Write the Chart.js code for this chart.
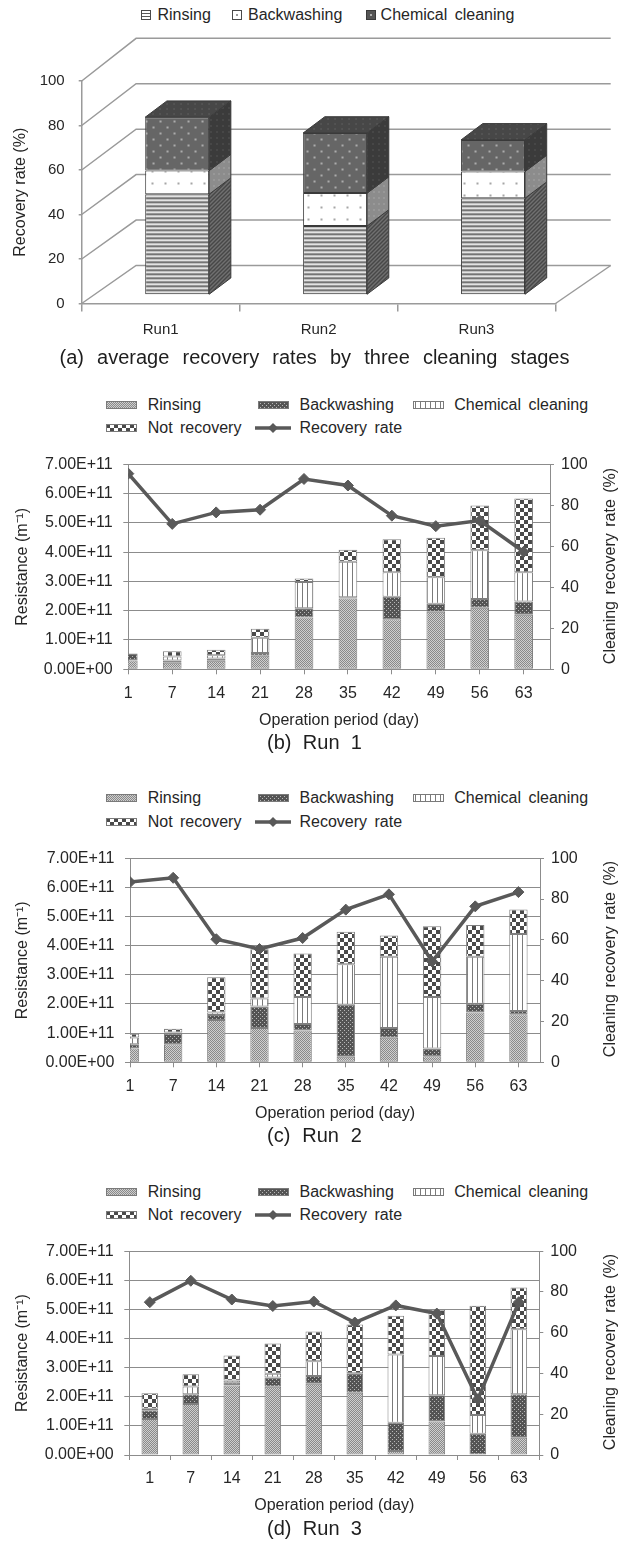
<!DOCTYPE html>
<html>
<head>
<meta charset="utf-8">
<script src="https://cdn.jsdelivr.net/npm/chart.js"></script>
<style>
  body { margin: 0; background: #fff; }
  #page { position: relative; width: 629px; height: 1547px; overflow: hidden;
          font-family: 'Liberation Sans', Arial, sans-serif; color: #262626; }
  #page canvas { position: absolute; left: 0; }
  .cap { position: absolute; left: 0; width: 629px; text-align: center; font-size: 20px;
         line-height: 24px; white-space: nowrap; color: #1e1e1e; }
  .lt { position: absolute; font-size: 16px; line-height: 20px; white-space: nowrap; word-spacing: 3px; }
  .rt { position: absolute; width: 240px; text-align: center; font-size: 16px; line-height: 20px;
        white-space: nowrap; word-spacing: 2px; transform: rotate(-90deg); }
</style>
</head>
<body>
<div id="page">
  <canvas id="chartA"></canvas>
  <canvas id="chartB"></canvas>
  <canvas id="chartC"></canvas>
  <canvas id="chartD"></canvas>
  <div class="cap" data-w="510" style="top:345px"><span>(a) average recovery rates by three cleaning stages</span></div>
  <div class="cap" data-w="95" style="top:730px"><span>(b) Run 1</span></div>
  <div class="cap" data-w="95" style="top:1123px"><span>(c) Run 2</span></div>
  <div class="cap" data-w="95" style="top:1516px"><span>(d) Run 3</span></div>
</div>
<script>
// ---- data ----
const runs = ['Run1', 'Run2', 'Run3'];
const avgRinsing = [45.3, 31.0, 43.5];
const avgBackwashing = [10.6, 14.8, 12.0];
const avgChemical = [24.0, 27.0, 14.2];

const days = ['1', '7', '14', '21', '28', '35', '42', '49', '56', '63'];

// resistance in units of 1E+11 m-1
const run1Rinsing  = [0.30, 0.22, 0.29, 0.46, 1.77, 2.42, 1.71, 1.96, 2.10, 1.86];
const run1Backwash = [0.22, 0.08, 0.08, 0.10, 0.31, 0.04, 0.77, 0.28, 0.30, 0.45];
const run1Chemical = [0.00, 0.14, 0.11, 0.52, 0.90, 1.21, 0.83, 0.90, 1.66, 1.00];
const run1NotRec   = [0.02, 0.18, 0.19, 0.30, 0.12, 0.41, 1.13, 1.35, 1.53, 2.52];
const run1Rate     = [95.4, 70.9, 76.5, 77.8, 92.8, 89.6, 74.9, 69.8, 72.5, 57.3];

const run2Rinsing  = [0.47, 0.62, 1.45, 1.18, 1.09, 0.19, 0.84, 0.21, 1.71, 1.65];
const run2Backwash = [0.15, 0.36, 0.17, 0.73, 0.22, 1.78, 0.34, 0.26, 0.30, 0.11];
const run2Chemical = [0.23, 0.04, 0.09, 0.28, 0.93, 1.39, 2.44, 1.77, 1.61, 2.64];
const run2NotRec   = [0.13, 0.13, 1.21, 1.69, 1.49, 1.12, 0.73, 2.43, 1.09, 0.84];
const run2Rate     = [88.3, 90.4, 60.3, 55.5, 60.9, 74.8, 82.3, 49.4, 76.4, 83.4];

const run3Rinsing  = [1.24, 1.75, 2.39, 2.34, 2.45, 2.14, 0.14, 1.15, 0.00, 0.59];
const run3Backwash = [0.30, 0.34, 0.09, 0.32, 0.26, 0.64, 0.97, 0.90, 0.73, 1.50];
const run3Chemical = [0.05, 0.26, 0.08, 0.13, 0.51, 0.03, 2.34, 1.35, 0.64, 2.23];
const run3NotRec   = [0.53, 0.42, 0.86, 1.04, 1.02, 1.67, 1.33, 1.59, 3.76, 1.43];
const run3Rate     = [75.0, 85.5, 76.3, 73.1, 75.3, 65.0, 73.4, 69.4, 27.4, 75.0];

// ---- look ----
Chart.defaults.font.family = "'Liberation Sans', Arial, sans-serif";
Chart.defaults.font.size = 16;
Chart.defaults.color = '#262626';
Chart.defaults.animation = false;

const GRID = '#8c8c8c';
const LINE = '#595959';
const page = document.getElementById('page');

function tile(w, h, draw) {
  const c = document.createElement('canvas');
  c.width = w; c.height = h;
  const g = c.getContext('2d');
  draw(g);
  return g.createPattern(c, 'repeat');
}
function dots(g, w, h, bg, fg, pts, s) {
  g.fillStyle = bg; g.fillRect(0, 0, w, h);
  g.fillStyle = fg;
  pts.forEach(p => g.fillRect(p[0], p[1], s, s));
}

const fills = {
  rinsing: tile(2, 2, g => dots(g, 2, 2, '#cfcfcf', '#8a8a8a', [[0, 0], [1, 1]], 1)),
  backwash: tile(4, 4, g => dots(g, 4, 4, '#545454', '#b8b8b8', [[0, 0], [2, 2]], 1)),
  chemical: tile(5, 1, g => dots(g, 5, 1, '#ffffff', '#7a7a7a', [[2, 0]], 1)),
  notRec: tile(8, 8, g => dots(g, 8, 8, '#ffffff', '#4a4a4a', [[0, 0], [4, 4]], 4))
};

const fills3d = {
  rinsingFront: tile(1, 4, g => {
    ['#5c5c5c', '#8c8c8c', '#f4f4f4', '#d2d2d2'].forEach((c, i) => { g.fillStyle = c; g.fillRect(0, i, 1, 1); });
  }),
  rinsingSide: tile(4, 4, g => dots(g, 4, 4, '#474747', '#9a9a9a', [[0, 3], [1, 2], [2, 1], [3, 0]], 1)),
  backFront: tile(13, 12, g => dots(g, 13, 12, '#ffffff', '#a6a6a6', [[5, 5]], 2)),
  backSide: tile(5, 6, g => dots(g, 5, 6, '#8c8c8c', '#bdbdbd', [[2, 2]], 1)),
  chemFront: tile(14, 12, g => dots(g, 14, 12, '#666666', '#ababab', [[3, 3], [10, 9]], 2)),
  chemSide: tile(6, 6, g => dots(g, 6, 6, '#3b3b3b', '#6e6e6e', [[2, 2]], 1)),
  chemTop: tile(7, 5, g => dots(g, 7, 5, '#474747', '#777777', [[3, 2]], 1))
};

// ---- legends ----
function swatch(x, y, w, h, paint) {
  const c = document.createElement('canvas');
  c.width = w; c.height = h;
  c.style.left = x + 'px'; c.style.top = y + 'px';
  paint(c.getContext('2d'), w, h);
  page.appendChild(c);
}
function label(x, yc, text) {
  const d = document.createElement('div');
  d.className = 'lt';
  d.style.left = x + 'px'; d.style.top = (yc - 10) + 'px';
  d.textContent = text;
  page.appendChild(d);
}
function patternBox(fill) {
  return (g, w, h) => {
    g.fillStyle = fill; g.fillRect(0, 0, w, h);
    g.strokeStyle = '#7a7a7a'; g.lineWidth = 1; g.strokeRect(0.5, 0.5, w - 1, h - 1);
  };
}

// legend (a)
const legA = 15;
swatch(141, legA - 5, 10, 10, (g, w, h) => {
  g.fillStyle = '#fff'; g.fillRect(0, 0, w, h);
  g.fillStyle = '#5a5a5a'; g.fillRect(0, 3, w, 1); g.fillRect(0, 6, w, 1);
  g.strokeStyle = '#4a4a4a'; g.strokeRect(0.5, 0.5, w - 1, h - 1);
});
label(157.5, legA, 'Rinsing');
swatch(232, legA - 5, 10, 10, (g, w, h) => {
  g.fillStyle = '#fff'; g.fillRect(0, 0, w, h);
  g.fillStyle = '#9a9a9a'; g.fillRect(4, 4, 2, 2);
  g.strokeStyle = '#4a4a4a'; g.strokeRect(0.5, 0.5, w - 1, h - 1);
});
label(248, legA, 'Backwashing');
swatch(366, legA - 5, 10, 10, (g, w, h) => {
  g.fillStyle = '#555'; g.fillRect(0, 0, w, h);
  g.fillStyle = '#b0b0b0'; g.fillRect(4, 4, 2, 2);
  g.strokeStyle = '#3a3a3a'; g.strokeRect(0.5, 0.5, w - 1, h - 1);
});
label(380.6, legA, 'Chemical cleaning');

function runLegend(y1) {
  const y2 = y1 + 23.3;
  const cols = [106, 258, 413];
  swatch(cols[0], y1 - 4, 31, 8, patternBox(fills.rinsing));
  label(cols[0] + 41.7, y1, 'Rinsing');
  swatch(cols[1], y1 - 4, 31, 8, patternBox(fills.backwash));
  label(cols[1] + 41.5, y1, 'Backwashing');
  swatch(cols[2], y1 - 4, 31, 8, patternBox(fills.chemical));
  label(cols[2] + 41.3, y1, 'Chemical cleaning');
  swatch(cols[0], y2 - 4, 31, 8, patternBox(fills.notRec));
  label(cols[0] + 41.7, y2, 'Not recovery');
  swatch(255, y2 - 6, 36, 12, (g, w, h) => {
    g.strokeStyle = LINE; g.lineWidth = 3.5;
    g.beginPath(); g.moveTo(0, 6); g.lineTo(w, 6); g.stroke();
    g.fillStyle = LINE;
    g.beginPath(); g.moveTo(18, 1); g.lineTo(23, 6); g.lineTo(18, 11); g.lineTo(13, 6); g.closePath(); g.fill();
  });
  label(cols[1] + 41.5, y2, 'Recovery rate');
}

// ---- (a) 3D stacked columns ----
const FRONT = { dx: 16.5, dy: -8.5 };   // depth position of the bars
const DEPTH = { dx: 21.7, dy: -16.3 };  // bar depth
const WALL_DX = 54.4;

function poly(ctx, pts, fill) {
  ctx.beginPath();
  ctx.moveTo(pts[0][0], pts[0][1]);
  for (let i = 1; i < pts.length; i++) ctx.lineTo(pts[i][0], pts[i][1]);
  ctx.closePath();
  ctx.fillStyle = fill; ctx.fill();
  ctx.strokeStyle = '#3a3a3a'; ctx.lineWidth = 1; ctx.stroke();
}

const box3d = {
  id: 'box3d',
  beforeDatasetsDraw(chart) {
    const { ctx, chartArea: a, scales: { y } } = chart;
    ctx.save();
    ctx.strokeStyle = '#9a9a9a'; ctx.lineWidth = 1.5;
    y.ticks.forEach(t => {
      const py = y.getPixelForValue(t.value);
      const by = py - (38 + 4.7 * t.value / 100);
      ctx.beginPath();
      ctx.moveTo(a.left, py); ctx.lineTo(a.left + WALL_DX, by); ctx.lineTo(a.right + 55.2, by);
      ctx.stroke();
    });
    const p0 = y.getPixelForValue(0);
    ctx.beginPath(); ctx.moveTo(a.right, p0); ctx.lineTo(a.right + 55.2, p0 - 38); ctx.stroke();
    ctx.restore();
    ctx.save();
    ctx.translate(FRONT.dx, FRONT.dy);
  },
  afterDatasetsDraw(chart) {
    const ctx = chart.ctx;
    const sides = [fills3d.rinsingSide, fills3d.backSide, fills3d.chemSide];
    chart.data.labels.forEach((_, i) => {
      let x0, x1, top;
      chart.data.datasets.forEach((ds, k) => {
        const b = chart.getDatasetMeta(k).data[i].getProps(['x', 'y', 'base', 'width'], true);
        x0 = b.x - b.width / 2; x1 = b.x + b.width / 2; top = b.y;
        poly(ctx, [[x1, b.y], [x1, b.base], [x1 + DEPTH.dx, b.base + DEPTH.dy], [x1 + DEPTH.dx, b.y + DEPTH.dy]], sides[k]);
      });
      poly(ctx, [[x0, top], [x1, top], [x1 + DEPTH.dx, top + DEPTH.dy], [x0 + DEPTH.dx, top + DEPTH.dy]], fills3d.chemTop);
    });
    ctx.restore();
  }
};

(function () {
  const cv = document.getElementById('chartA');
  cv.width = 629; cv.height = 318; cv.style.top = '30px';
  const bar = (label, data, fill) => ({
    label, data, backgroundColor: fill, borderColor: '#3a3a3a', borderWidth: 1, borderSkipped: false,
    barPercentage: 0.405, categoryPercentage: 1
  });
  new Chart(cv, {
    type: 'bar',
    data: {
      labels: runs,
      datasets: [
        bar('Rinsing', avgRinsing, fills3d.rinsingFront),
        bar('Backwashing', avgBackwashing, fills3d.backFront),
        bar('Chemical cleaning', avgChemical, fills3d.chemFront)
      ]
    },
    options: {
      responsive: false,
      animation: false,
      layout: { padding: { top: 51, right: 73.5, left: 0, bottom: 0 } },
      plugins: { legend: { display: false }, tooltip: { enabled: false } },
      scales: {
        x: {
          stacked: true,
          ticks: { font: { size: 15 }, padding: 9.5 },
          grid: { drawOnChartArea: false, tickLength: 8, color: '#9a9a9a', lineWidth: 1.5, offset: true },
          border: { color: '#9a9a9a', width: 1.5 },
          afterFit: s => { s.height = 44.5; }
        },
        y: {
          stacked: true, min: 0, max: 100,
          ticks: { stepSize: 20, font: { size: 15 }, padding: 14 },
          grid: { drawOnChartArea: false, tickLength: 3, color: '#9a9a9a', lineWidth: 1.5 },
          border: { color: '#9a9a9a', width: 1.5 },
          title: { display: true, text: 'Recovery rate (%)', font: { size: 16 }, padding: { top: 11.4, bottom: 0 } },
          afterFit: s => { s.width = 81.7; }
        }
      }
    },
    plugins: [box3d]
  });
})();

// ---- (b)-(d) resistance bars + recovery line ----
function sci(v) {
  const n = Math.round(v * 100) / 100;
  if (n === 0) return '0.00E+00';
  const [m, e] = (n * 1e11).toExponential(2).split('e');
  const ex = parseInt(e, 10);
  return m + 'E' + (ex < 0 ? '-' : '+') + String(Math.abs(ex)).padStart(2, '0');
}

function runChart(id, geo, rinsing, backwash, chemical, notRec, rate) {
  const cv = document.getElementById(id);
  const ct = Math.floor(geo.top - 17);
  const cb = Math.ceil(geo.bottom + 64);
  cv.width = 629; cv.height = cb - ct; cv.style.top = ct + 'px';
  const xh = cb - geo.bottom;
  const linear = geo.xMax !== undefined;
  const pts = arr => linear ? arr.map((v, i) => ({ x: i, y: v })) : arr;
  const bar = (label, arr, fill) => ({
    type: 'bar', label, data: pts(arr), backgroundColor: fill,
    borderColor: '#7f7f7f', borderWidth: 1, borderSkipped: false,
    yAxisID: 'y', order: 1, clip: 0,
    barPercentage: geo.barPct, categoryPercentage: 1
  });
  const xCommon = {
    stacked: true,
    border: { color: GRID },
    title: { display: true, text: 'Operation period (day)', padding: { top: 0, bottom: xh - 51 - 9.6 } },
    afterFit: s => { s.height = xh; }
  };
  const x = linear
    ? Object.assign({}, xCommon, {
        type: 'linear', min: 0, max: geo.xMax, offset: false,
        grid: { drawOnChartArea: false, tickLength: 5, color: GRID, offset: false },
        ticks: { stepSize: 1, includeBounds: false, autoSkip: false, maxRotation: 0, padding: 9.4,
                 callback: v => Number.isInteger(v) ? days[v] : '' }
      })
    : Object.assign({}, xCommon, {
        type: 'category', offset: true,
        grid: { drawOnChartArea: false, tickLength: 5, color: GRID, offset: true },
        ticks: { autoSkip: false, maxRotation: 0, padding: 9.4 }
      });

  new Chart(cv, {
    type: 'bar',
    data: {
      labels: days,
      datasets: [
        {
          type: 'line', label: 'Recovery rate', data: pts(rate), yAxisID: 'y2', order: 0,
          borderColor: LINE, borderWidth: 3.5, backgroundColor: LINE,
          pointStyle: 'rectRot', pointRadius: 5.5, pointBackgroundColor: LINE, pointBorderColor: LINE,
          pointBorderWidth: 1, tension: 0
        },
        bar('Rinsing', rinsing, fills.rinsing),
        bar('Backwashing', backwash, fills.backwash),
        bar('Chemical cleaning', chemical, fills.chemical),
        bar('Not recovery', notRec, fills.notRec)
      ]
    },
    options: {
      responsive: false,
      animation: false,
      layout: { padding: { top: geo.top - ct, left: 0, right: 0, bottom: 0 } },
      plugins: { legend: { display: false }, tooltip: { enabled: false } },
      scales: {
        x,
        y: {
          position: 'left', stacked: true, min: 0, max: 7,
          ticks: { stepSize: 1, padding: 10.6, callback: v => sci(v) },
          grid: { color: GRID, tickLength: 5 },
          border: { color: GRID },
          title: { display: true, text: 'Resistance (m\u207B\u00B9)', padding: { top: 13, bottom: 0 } },
          afterFit: s => { s.width = geo.left; }
        },
        y2: {
          position: 'right', min: 0, max: 100,
          ticks: { stepSize: 20, padding: 7 },
          grid: { drawOnChartArea: false, tickLength: 4, color: GRID },
          border: { color: GRID },
          afterFit: s => { s.width = 629 - geo.right; }
        }
      }
    }
  });
  runLegend(geo.top - 56.6);

  // right axis title, reading bottom to top
  const t = document.createElement('div');
  t.className = 'rt';
  t.textContent = 'Cleaning recovery rate (%)';
  t.style.left = (610 - 120) + 'px';
  t.style.top = ((geo.top + geo.bottom) / 2 - 10) + 'px';
  page.appendChild(t);
}

runChart('chartB', { top: 461.7, bottom: 669.3, left: 128.3, right: 550, xMax: 9.6, barPct: 0.425 },
  run1Rinsing, run1Backwash, run1Chemical, run1NotRec, run1Rate);
runChart('chartC', { top: 855, bottom: 1062.3, left: 130, right: 540, xMax: 9.5, barPct: 0.425 },
  run2Rinsing, run2Backwash, run2Chemical, run2NotRec, run2Rate);
runChart('chartD', { top: 1248.3, bottom: 1455, left: 129.3, right: 539.3, barPct: 0.405 },
  run3Rinsing, run3Backwash, run3Chemical, run3NotRec, run3Rate);

// captions: spread words to the measured width
document.querySelectorAll('.cap').forEach(el => {
  const span = el.firstElementChild;
  const natural = span.getBoundingClientRect().width;
  const gaps = span.textContent.split(' ').length - 1;
  span.style.wordSpacing = ((+el.dataset.w - natural) / gaps) + 'px';
});
</script>
</body>
</html>
